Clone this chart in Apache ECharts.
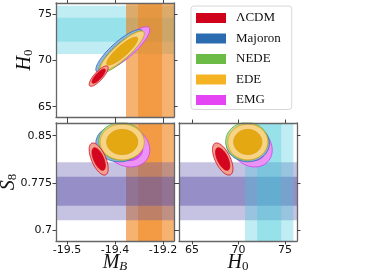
<!DOCTYPE html>
<html><head><meta charset="utf-8">
<script src="https://cdn.jsdelivr.net/npm/echarts@6/dist/echarts.min.js"></script>
<style>html,body{margin:0;padding:0;background:#fff}#c{width:374px;height:273px}</style>
</head><body><div id="c"></div>
<script>
// ---- data ----
const models   = ['ΛCDM', 'Majoron', 'NEDE', 'EDE', 'EMG'];
const meanMB   = [-19.434, -19.391, -19.387, -19.385, -19.377];
const meanH0   = [68.3, 71.0, 70.9, 71.0, 71.3];
const meanS8   = [0.813, 0.838, 0.841, 0.840, 0.834];
const sigMB    = [0.0081, 0.0200, 0.0192, 0.0188, 0.0202];
const sigH0    = [0.45, 0.95, 0.93, 0.88, 0.95];
const sigS8    = [0.0104, 0.0120, 0.0122, 0.0116, 0.0137];
const corrMBH0 = [0.81, 0.85, 0.87, 0.87, 0.85];
const corrMBS8 = [-0.6, 0.0, 0.0, 0.0, -0.2];
const corrH0S8 = [-0.6, 0.0, 0.0, 0.0, -0.2];
// external priors (bands): M_B (SH0ES), H0 (SH0ES), S8 (weak lensing)
const bandMean  = {MB: -19.327, H0: 73.3, S8: 0.762};
const bandSigma = {MB: 0.025, H0: 1.3, S8: 0.023};
// ticks
const ticksMB = [-19.5, -19.4, -19.3];
const tickLabelsMB = ['-19.5', '-19.4', '-19.2'];
const ticksH0 = [65, 70, 75];
const tickLabelsH0 = ['65', '70', '75'];
const ticksS8 = [0.7, 0.775, 0.85];
const tickLabelsS8 = ['0.7', '0.775', '0.85'];

// ---- styling ----
const swatch = ['#d0021b', '#2b6cb0', '#6dbb47', '#f5b324', '#e544f5'];
const fill95 = ['#f3a08f', '#8fb4e3', '#b6df9e', '#f7d386', '#ec93f6'];
const fill68 = ['#d4061f', '#3071b8', '#6dbb47', '#e4a812', '#dc55ef'];
const edge   = ['#d0021b', '#2b6cb0', '#5aa83a', '#dba018', '#d43ee8'];
const zOrder = [7, 4, 5, 6, 3];
const R68 = 1.72, R95 = 2.448;

const means = {MB: meanMB, H0: meanH0, S8: meanS8};
const sigs = {MB: sigMB, H0: sigH0, S8: sigS8};
const corrs = {MB_H0: corrMBH0, MB_S8: corrMBS8, H0_S8: corrH0S8};
const bandCol = {
  MB: ['rgba(240,127,16,0.6)', 'rgba(240,127,16,0.45)'],
  H0: ['rgba(60,200,220,0.33)', 'rgba(60,200,220,0.30)'],
  S8: ['rgba(91,80,168,0.35)', 'rgba(91,80,168,0.45)']
};

const grids = [
  {left: 56, top: 3, width: 118, height: 114},
  {left: 56, top: 123, width: 118, height: 118},
  {left: 179, top: 123, width: 118, height: 118}
];
const panels = [
  {x: 'MB', y: 'H0', xr: [-19.5229, -19.2771], yr: [63.89, 76.19], xl: false, yl: true, bandOrder: ['H0', 'MB']},
  {x: 'MB', y: 'S8', xr: [-19.5229, -19.2771], yr: [0.6831, 0.8701], xl: true, yl: true, bandOrder: ['MB', 'S8']},
  {x: 'H0', y: 'S8', xr: [63.60, 76.29], yr: [0.6831, 0.8701], xl: true, yl: false, bandOrder: ['S8', 'H0']}
];
const tickSets = {MB: [ticksMB, tickLabelsMB], H0: [ticksH0, tickLabelsH0], S8: [ticksS8, tickLabelsS8]};

function mkAxis(gi, pos, key, range, showLabel) {
  const [t, l] = tickSets[key];
  return {
    type: 'value', gridIndex: gi, position: pos, min: range[0], max: range[1], z: 10,
    axisLine: {show: true, onZero: false, lineStyle: {color: '#666', width: 1.3}},
    axisTick: {show: true, inside: false, length: 3.5, customValues: t, lineStyle: {color: '#444', width: 1}},
    axisLabel: {show: showLabel, customValues: t, margin: 4, fontFamily: 'DejaVu Sans', fontSize: 11, color: '#111',
      formatter: v => { const i = t.findIndex(q => Math.abs(q - v) < 1e-6); return i >= 0 ? l[i] : ''; }},
    splitLine: {show: false}
  };
}

const xAxes = [], yAxes = [], series = [];
panels.forEach((p, g) => {
  xAxes.push(mkAxis(g, 'bottom', p.x, p.xr, p.xl));
  xAxes.push(mkAxis(g, 'top', p.x, p.xr, false));
  yAxes.push(mkAxis(g, 'left', p.y, p.yr, p.yl));
  yAxes.push(mkAxis(g, 'right', p.y, p.yr, false));
  // bands
  series.push({
    type: 'custom', xAxisIndex: g * 2, yAxisIndex: g * 2, z: 1, silent: true,
    data: [[bandMean[p.x], bandMean[p.y]]], encode: {x: 0, y: 1},
    renderItem: (params, api) => {
      const cs = params.coordSys;
      const children = [];
      p.bandOrder.forEach(key => {
        const vertical = key === p.x;
        [2, 1].forEach((k, li) => {
          const lo = bandMean[key] - k * bandSigma[key], hi = bandMean[key] + k * bandSigma[key];
          let rect;
          if (vertical) {
            let x1 = api.coord([lo, bandMean[p.y]])[0], x2 = api.coord([hi, bandMean[p.y]])[0];
            x1 = Math.max(cs.x, Math.min(cs.x + cs.width, x1));
            x2 = Math.max(cs.x, Math.min(cs.x + cs.width, x2));
            rect = {x: Math.min(x1, x2), y: cs.y, width: Math.abs(x2 - x1), height: cs.height};
          } else {
            let y1 = api.coord([bandMean[p.x], lo])[1], y2 = api.coord([bandMean[p.x], hi])[1];
            y1 = Math.max(cs.y, Math.min(cs.y + cs.height, y1));
            y2 = Math.max(cs.y, Math.min(cs.y + cs.height, y2));
            rect = {x: cs.x, y: Math.min(y1, y2), width: cs.width, height: Math.abs(y2 - y1)};
          }
          children.push({type: 'rect', shape: rect, style: {fill: bandCol[key][li]}});
        });
      });
      return {type: 'group', children};
    }
  });
  // contours
  models.forEach((name, m) => {
    const mx = means[p.x][m], my = means[p.y][m];
    const sx = sigs[p.x][m], sy = sigs[p.y][m];
    const rho = corrs[p.x + '_' + p.y][m];
    series.push({
      type: 'custom', name, xAxisIndex: g * 2, yAxisIndex: g * 2, z: zOrder[m], silent: true,
      itemStyle: {color: swatch[m]},
      data: [[mx, my, 0], [mx, my, 1]], encode: {x: 0, y: 1},
      renderItem: (params, api) => {
        const lvl = api.value(2);
        const r = lvl === 0 ? R95 : R68;
        const pts = [];
        const N = 80, q = Math.sqrt(1 - rho * rho);
        for (let k = 0; k < N; k++) {
          const t = 2 * Math.PI * k / N;
          const c = Math.cos(t), s = Math.sin(t);
          pts.push(api.coord([mx + r * sx * c, my + r * sy * (rho * c + q * s)]));
        }
        const clipped = echarts.graphic.clipPointsByRect(pts, params.coordSys);
        return {type: 'polygon', shape: {points: clipped},
          style: {fill: lvl === 0 ? fill95[m] : fill68[m], stroke: edge[m], lineWidth: 0.8}};
      }
    });
  });
});

const italic = {fontFamily: 'Liberation Serif', fontStyle: 'italic', fontSize: 20, fill: '#111'};
const sub = {fontFamily: 'Liberation Serif', fontSize: 13, fill: '#111', padding: [8, 0, 0, 0]};
const subIt = Object.assign({}, sub, {fontStyle: 'italic'});
function label(x, y, main, s, rot, it) {
  return {type: 'text', x, y, rotation: rot || 0, z: 20,
    style: {text: '{i|' + main + '}{' + (it ? 't' : 's') + '|' + s + '}', align: 'center', verticalAlign: 'middle',
      rich: {i: italic, s: sub, t: subIt}}};
}

const chart = echarts.init(document.getElementById('c'), null, {renderer: 'canvas'});
chart.setOption({
  animation: false,
  backgroundColor: '#fff',
  grid: grids,
  xAxis: xAxes,
  yAxis: yAxes,
  series,
  legend: {
    orient: 'vertical', left: 191, top: 6, itemWidth: 30, itemHeight: 10, itemGap: 7.5,
    padding: [5.5, 11, 3, 5], borderColor: '#d8d8d8', borderWidth: 1, borderRadius: 3,
    textStyle: {fontFamily: 'Liberation Serif', fontSize: 13, color: '#111', padding: [0, 0, 0, 5]},
    data: models.map((n, i) => ({name: n, icon: 'rect', itemStyle: {color: swatch[i]}}))
  },
  graphic: [
    label(25, 60, 'H', '0', Math.PI / 2),
    label(9, 182, 'S', '8', Math.PI / 2),
    label(115, 263, 'M', 'B', 0, true),
    label(238, 263, 'H', '0')
  ]
});
</script></body></html>
